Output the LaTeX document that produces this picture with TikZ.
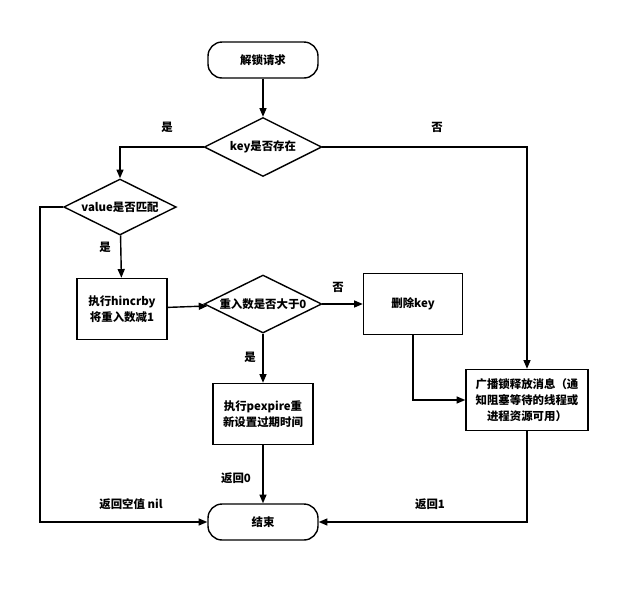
\documentclass[tikz,border=0pt]{standalone}
\usepackage{fontspec}
\setmainfont{Noto Sans CJK SC}
\usetikzlibrary{shapes.geometric,arrows.meta}
\begin{document}
\begin{tikzpicture}[x=0.02cm,y=-0.02cm,font=\fontsize{6.5}{9}\selectfont\bfseries]
	\tikzstyle{term} = [draw,thick,rounded corners=8pt,minimum width=2.2cm,minimum height=0.72cm]
	\tikzstyle{proc} = [draw,thick,align=center,minimum width=1.9cm,minimum height=1.22cm,inner sep=1pt]
	\tikzstyle{cond} = [draw,thick,diamond,aspect=2,inner sep=0pt,minimum width=2.35cm,minimum height=1.18cm]
	\tikzstyle{line} = [thick,-{Triangle[length=5pt,width=4pt]}]

	\useasboundingbox (0,0) rectangle (640,600);
	\node [term] (start) at (263,60) {解锁请求};
	\node [cond] (key) at (263,147) {key是否存在};
	\node [cond,minimum width=2.25cm,minimum height=1.12cm] (val) at (120,207) {value是否匹配};
	\node [proc,minimum width=1.8cm] (hincr) at (122,309) {执行hincrby\\将重入数减1};
	\node [cond,minimum height=1.16cm] (cnt) at (263,304) {重入数是否大于0};
	\node [proc,minimum width=1.98cm] (del) at (413,304) {删除key};
	\node [proc,minimum width=2cm] (pexp) at (263,414) {执行pexpire重\\新设置过期时间};
	\node [proc,minimum width=2.44cm] (bcast) at (527,400) {广播锁释放消息（通\\知阻塞等待的线程或\\进程资源可用）};
	\node [term] (end) at (263,522) {结束};

	\draw[line] (start) -- (key);
	\draw[line] (key.west) -| (val.north);
	\draw[line] (key.east) -| (bcast.north);
	\draw[line] (val.west) -- (40,207) |- (end.west);
	\draw[line] (val) -- (hincr);
	\draw[line] (hincr) -- (cnt);
	\draw[line] (cnt) -- (del);
	\draw[line] (cnt) -- (pexp);
	\draw[line] (pexp) -- (end);
	\draw[line] (del.south) |- (bcast.west);
	\draw[line] (bcast.south) |- (end.east);

	\node at (167,127) {是};
	\node at (437,127) {否};
	\node at (105,247) {是};
	\node at (338,287) {否};
	\node at (250,357) {是};
	\node at (236,478) {返回0};
	\node at (131,504) {返回空值 nil};
	\node at (430,504) {返回1};
\end{tikzpicture}
\end{document}
